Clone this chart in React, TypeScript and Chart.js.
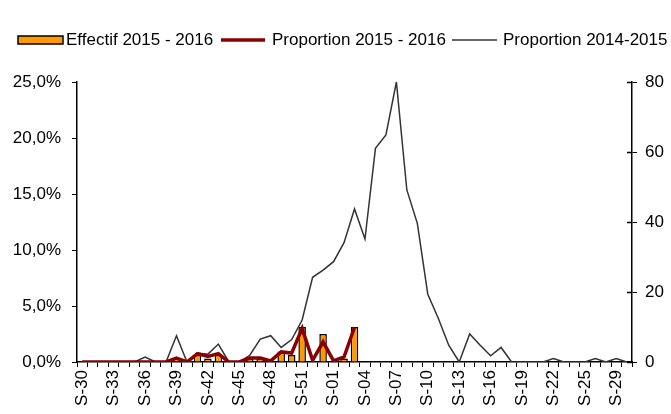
import React, { useEffect, useRef } from 'react';
import { Chart, registerables } from 'chart.js';

Chart.register(...registerables);

const weeks = [
  'S-30', 'S-31', 'S-32', 'S-33', 'S-34', 'S-35', 'S-36', 'S-37', 'S-38', 'S-39',
  'S-40', 'S-41', 'S-42', 'S-43', 'S-44', 'S-45', 'S-46', 'S-47', 'S-48', 'S-49',
  'S-50', 'S-51', 'S-52', 'S-53', 'S-01', 'S-02', 'S-03', 'S-04', 'S-05', 'S-06',
  'S-07', 'S-08', 'S-09', 'S-10', 'S-11', 'S-12', 'S-13', 'S-14', 'S-15', 'S-16',
  'S-17', 'S-18', 'S-19', 'S-20', 'S-21', 'S-22', 'S-23', 'S-24', 'S-25', 'S-26',
  'S-27', 'S-29', 'S-30',
];

// Effectif 2015 - 2016 (right axis)
const effectif20152016 = [
  0, 0, 0, 0, 0, 0, 0, 0, 0, 1,
  0, 2, 1, 2, 0, 0, 1, 1, 0, 3,
  2, 10, 0, 8, 0, 1, 10,
];

// Proportion 2015 - 2016 (%) (left axis)
const proportion20152016 = [
  0, 0, 0, 0, 0, 0, 0, 0, 0, 0.35,
  0, 0.75, 0.5, 0.75, 0, 0, 0.35, 0.35, 0.1, 0.9,
  0.8, 3.0, 0.15, 1.8, 0.1, 0.45, 3.1,
];

// Proportion 2014-2015 (%) (left axis)
const proportion20142015 = [
  0, 0, 0, 0, 0, 0, 0.45, 0, 0, 2.35,
  0, 0.8, 0.7, 1.6, 0, 0, 0.6, 2.05, 2.35, 1.3,
  2.0, 3.75, 7.56, 8.2, 8.96, 10.65, 13.66, 10.98, 19.08, 20.27,
  25.0, 15.36, 12.38, 6.04, 3.9, 1.5, 0, 2.5, 1.5, 0.56,
  1.3, 0, 0, 0, 0, 0.3, 0, 0, 0, 0.3,
  0, 0.3, 0,
];

const leftMax = 25;
const leftStep = 5;
const rightMax = 80;
const rightStep = 20;

const FONT = "'Liberation Sans', Arial, sans-serif";

const legendPlugin = {
  id: 'customLegend',
  afterDraw(chart: any) {
    const ctx = chart.ctx as CanvasRenderingContext2D;
    const ds = chart.data.datasets;
    const cy = 40;
    ctx.save();
    ctx.font = `17px ${FONT}`;
    ctx.textBaseline = 'middle';
    // item 1: bar
    ctx.fillStyle = ds[0].backgroundColor;
    ctx.fillRect(18, cy - 4, 45, 8);
    ctx.strokeStyle = '#000';
    ctx.lineWidth = 1.5;
    ctx.strokeRect(18, cy - 4, 45, 8);
    ctx.fillStyle = '#000';
    ctx.fillText(ds[0].label, 66, cy);
    // item 2: red line
    ctx.strokeStyle = ds[1].borderColor;
    ctx.lineWidth = ds[1].borderWidth;
    ctx.beginPath();
    ctx.moveTo(221, cy);
    ctx.lineTo(265, cy);
    ctx.stroke();
    ctx.fillText(ds[1].label, 272, cy);
    // item 3: grey line
    ctx.strokeStyle = ds[2].borderColor;
    ctx.lineWidth = ds[2].borderWidth;
    ctx.beginPath();
    ctx.moveTo(452, cy);
    ctx.lineTo(497, cy);
    ctx.stroke();
    ctx.fillText(ds[2].label, 503, cy);
    ctx.restore();
  },
};

// right axis tick marks cross the axis line (inner half)
const crossTicksPlugin = {
  id: 'crossTicks',
  afterDraw(chart: any) {
    const s = chart.scales.y2;
    const ctx = chart.ctx as CanvasRenderingContext2D;
    ctx.save();
    ctx.strokeStyle = '#000';
    ctx.lineWidth = 1.5;
    s.ticks.forEach((t: any) => {
      const y = Math.round(s.getPixelForValue(t.value)) + 0.5;
      ctx.beginPath();
      ctx.moveTo(s.left - 5, y);
      ctx.lineTo(s.left, y);
      ctx.stroke();
    });
    ctx.restore();
  },
};

export default function App() {
  const ref = useRef<HTMLCanvasElement>(null);

  useEffect(() => {
    if (!ref.current) return;
    const chart = new Chart(ref.current, {
      type: 'bar',
      data: {
        labels: weeks,
        datasets: [
          {
            type: 'bar',
            label: 'Effectif 2015 - 2016',
            data: effectif20152016,
            yAxisID: 'y2',
            backgroundColor: '#FF9900',
            borderColor: '#000000',
            borderWidth: 1.5,
            barPercentage: 0.72,
            categoryPercentage: 1,
            order: 3,
          },
          {
            type: 'line',
            label: 'Proportion 2015 - 2016',
            data: proportion20152016,
            yAxisID: 'y',
            borderColor: '#8B0000',
            backgroundColor: '#8B0000',
            borderWidth: 3.5,
            pointRadius: 0,
            tension: 0,
            order: 1,
          },
          {
            type: 'line',
            label: 'Proportion 2014-2015',
            data: proportion20142015,
            yAxisID: 'y',
            borderColor: '#333333',
            backgroundColor: '#333333',
            borderWidth: 1.5,
            pointRadius: 0,
            tension: 0,
            order: 2,
          },
        ],
      },
      options: {
        animation: false,
        responsive: false,
        maintainAspectRatio: false,
        layout: { padding: { top: 82, left: 0, right: 0, bottom: 0 } },
        plugins: {
          legend: { display: false },
          tooltip: { enabled: false },
        },
        scales: {
          x: {
            type: 'category',
            offset: true,
            grid: {
              offset: true,
              drawOnChartArea: false,
              drawTicks: true,
              tickLength: 5,
              color: '#000',
            },
            border: { display: true, color: '#000', width: 1.5 },
            ticks: {
              autoSkip: false,
              minRotation: 90,
              maxRotation: 90,
              padding: 3,
              color: '#000',
              font: { family: FONT, size: 17 },
              callback: (_v: any, i: number) => (i % 3 === 0 ? weeks[i] : ''),
            },
            afterFit: (s: any) => {
              s.height = 52;
            },
          },
          y: {
            position: 'left',
            min: 0,
            max: leftMax,
            grid: {
              drawOnChartArea: false,
              drawTicks: true,
              tickLength: 5,
              color: '#000',
            },
            border: { display: true, color: '#000', width: 1.5 },
            ticks: {
              stepSize: leftStep,
              padding: 11,
              color: '#000',
              font: { family: FONT, size: 17 },
              callback: (v: any) => `${Number(v).toFixed(1).replace('.', ',')}%`,
            },
            afterFit: (s: any) => {
              s.width = 77;
            },
          },
          y2: {
            position: 'right',
            min: 0,
            max: rightMax,
            grid: {
              drawOnChartArea: false,
              drawTicks: true,
              tickLength: 5,
              color: '#000',
            },
            border: { display: true, color: '#000', width: 1.5 },
            ticks: {
              stepSize: rightStep,
              padding: 8,
              color: '#000',
              font: { family: FONT, size: 17 },
            },
            afterFit: (s: any) => {
              s.width = 39;
            },
          },
        },
      },
      plugins: [legendPlugin, crossTicksPlugin],
    });
    return () => chart.destroy();
  }, []);

  return (
    <div style={{ position: 'fixed', left: 0, top: 0, width: 671, height: 414, background: '#fff' }}>
      <canvas ref={ref} width={671} height={414} style={{ width: 671, height: 414 }} />
    </div>
  );
}
